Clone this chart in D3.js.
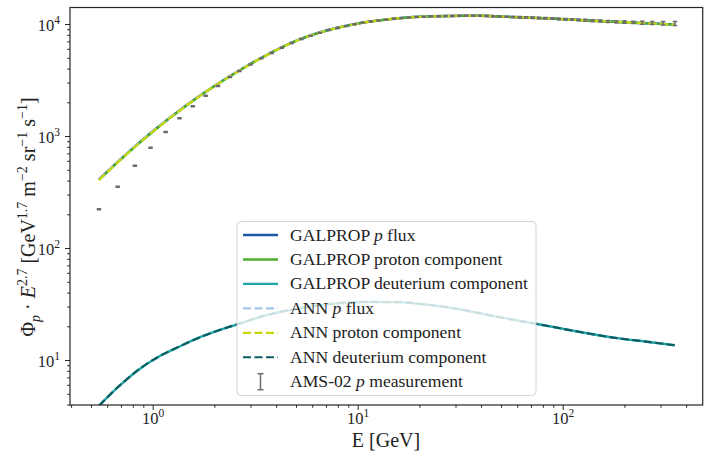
<!DOCTYPE html>
<html>
<head>
<meta charset="utf-8">
<script src="https://cdn.jsdelivr.net/npm/d3@7"></script>
<style>
  body { margin: 0; background: #fff; }
  svg { display: block; }
</style>
</head>
<body>
<svg id="chart" width="704" height="453"></svg>
<script>
// Kinetic energy grid of the model curves [GeV]
const energy = [0.547, 0.685, 0.857, 1.073, 1.344, 1.682, 2.106, 2.667, 3.463, 5.04, 7.33,
  10.65, 15.5, 22.53, 32.74, 39.51, 57.41, 83.56, 121.5, 176.5, 256.9, 353.1];

// Flux x E^2.7 from the GALPROP run
const galpropTotal = [408.9, 602.5, 867.8, 1222, 1682, 2267, 2980, 3885, 5105, 7124, 8932,
  10315, 11240, 11720, 11860, 11860, 11550, 11240, 10860, 10480, 10150, 9897];
const galpropProton = [405.0, 596.7, 859.6, 1211, 1669, 2251, 2962, 3864, 5080, 7095, 8900,
  10282, 11207, 11689, 11832, 11834, 11527, 11220, 10842, 10464, 10135, 9883];
const galpropDeut = [3.90, 5.84, 8.24, 10.76, 13.14, 15.82, 18.47, 21.19, 24.71, 28.71, 31.62,
  33.0, 32.9, 30.98, 27.95, 26.09, 22.88, 20.22, 17.79, 15.85, 14.57, 13.53];

// Same quantities from the neural-network emulator
const annTotal = [408.9, 602.5, 867.8, 1222, 1682, 2267, 2980, 3885, 5105, 7124, 8932,
  10315, 11240, 11720, 11860, 11860, 11550, 11240, 10860, 10480, 10150, 9897];
const annProton = [405.0, 596.7, 859.6, 1211, 1669, 2251, 2962, 3864, 5080, 7095, 8900,
  10282, 11207, 11689, 11832, 11834, 11527, 11220, 10842, 10464, 10135, 9883];
const annDeut = [3.90, 5.84, 8.24, 10.76, 13.14, 15.82, 18.47, 21.19, 24.71, 28.71, 31.62,
  33.0, 32.9, 30.98, 27.95, 26.09, 22.88, 20.22, 17.79, 15.85, 14.57, 13.53];

// AMS-02 proton measurement
const amsEnergy = [0.547, 0.675, 0.819, 0.976, 1.157, 1.351, 1.569, 1.813, 2.082, 2.383,
  2.648, 3.00, 3.385, 3.805, 4.266, 4.769, 5.311, 5.899, 6.539, 7.228, 7.973, 8.778, 9.644,
  10.59, 11.59, 12.63, 13.78, 15.03, 16.37, 17.82, 19.36, 21.01, 22.81, 24.76, 26.81, 29.01,
  31.35, 33.85, 36.55, 39.45, 42.55, 45.84, 49.39, 53.19, 57.23, 61.58, 66.28, 71.32, 76.72,
  82.5, 88.8, 95.5, 103.0, 111.0, 119.5, 129.0, 140.0, 152.4, 166.4, 182.4, 200.3, 220.8,
  244.7, 273.6, 309.0, 352.8];
const amsFlux = [222, 352, 542, 785, 1086, 1442, 1842, 2290, 2795, 3363,
  3800, 4349, 4935, 5523, 6144, 6783, 7355, 7834, 8337, 8858, 9226, 9574, 9929,
  10292, 10517, 10727, 10945, 11166, 11311, 11418, 11523, 11627, 11722, 11752, 11784, 11814,
  11844, 11860, 11860, 11860, 11797, 11735, 11673, 11611, 11550, 11491, 11433, 11373, 11313,
  11255, 11180, 11106, 11027, 10951, 10874, 10796, 10714, 10630, 10542, 10470, 10420, 10350,
  10280, 10210, 10150, 10100];
const amsErrPct = [1.0, 1.0, 1.0, 1.0, 1.0, 1.0, 1.0, 1.0, 1.0, 1.0,
  1.0, 1.0, 1.0, 1.0, 1.0, 1.0, 1.0, 1.0, 1.0, 1.0, 1.0, 1.0, 1.0,
  1.0, 1.0, 1.0, 1.0, 1.0, 1.0, 1.0, 1.0, 1.0, 1.0, 1.0, 1.0, 1.0,
  1.0, 1.0, 1.0, 1.0, 1.0, 1.0, 1.0, 1.0, 1.0, 1.5, 1.5, 1.5, 1.5,
  1.5, 1.5, 1.5, 1.5, 1.5, 1.5, 2.0, 2.0, 2.0, 2.0, 2.0, 2.5, 2.5,
  3.0, 3.0, 3.5, 4.0];

// Axis ticks
const xMajor = [1, 10, 100];
const xMinor = [0.4, 0.5, 0.6, 0.7, 0.8, 0.9, 2, 3, 4, 5, 6, 7, 8, 9,
  20, 30, 40, 50, 60, 70, 80, 90, 200, 300, 400];
const yMajor = [10, 100, 1000, 10000];
const yMinor = [4, 5, 6, 7, 8, 9, 20, 30, 40, 50, 60, 70, 80, 90,
  200, 300, 400, 500, 600, 700, 800, 900, 2000, 3000, 4000, 5000, 6000, 7000, 8000, 9000];

const FONT = "'Liberation Serif', 'DejaVu Serif', serif";
const box = { left: 70, right: 702.7, top: 7.5, bottom: 405 };

const svg = d3.select('#chart');
const x = d3.scaleLog().domain([0.3951, 481.8]).range([box.left, box.right]);
const y = d3.scaleLog().domain([3.966, 14042]).range([box.bottom, box.top]);

svg.append('defs').append('clipPath').attr('id', 'plotClip')
  .append('rect')
  .attr('x', box.left).attr('y', box.top)
  .attr('width', box.right - box.left).attr('height', box.bottom - box.top);

// text with math-style super/subscripts
function rich(sel, segs, size) {
  let cur = 0;
  segs.forEach(s => {
    const off = s.sup ? -0.42 * size : s.sub ? 0.25 * size : 0;
    const t = sel.append('tspan').text(s.t).attr('dy', off - cur);
    cur = off;
    if (s.sup || s.sub) t.attr('font-size', size * 0.7);
    if (s.i) t.attr('font-style', 'italic');
  });
}

// Curves
const series = [
  { name: [{ t: 'GALPROP ' }, { t: 'p', i: true }, { t: ' flux' }], vals: galpropTotal, color: '#1c5aa6', dash: null, w: 2.4 },
  { name: [{ t: 'GALPROP proton component' }], vals: galpropProton, color: '#4fae2c', dash: null, w: 2.4 },
  { name: [{ t: 'GALPROP deuterium component' }], vals: galpropDeut, color: '#1ea5a8', dash: null, w: 2.4 },
  { name: [{ t: 'ANN ' }, { t: 'p', i: true }, { t: ' flux' }], vals: annTotal, color: '#a4c6ea', dash: '8,3.5', w: 2.2 },
  { name: [{ t: 'ANN proton component' }], vals: annProton, color: '#c9d800', dash: '8,3.5', w: 2.2 },
  { name: [{ t: 'ANN deuterium component' }], vals: annDeut, color: '#0b5d62', dash: '8,3.5', w: 2.2 }
];

const line = d3.line().x(d => x(d[0])).y(d => y(d[1])).curve(d3.curveMonotoneX);
const plotG = svg.append('g').attr('clip-path', 'url(#plotClip)');
series.forEach(s => {
  plotG.append('path')
    .attr('d', line(energy.map((e, i) => [e, s.vals[i]])))
    .attr('fill', 'none')
    .attr('stroke', s.color)
    .attr('stroke-width', s.w)
    .attr('stroke-dasharray', s.dash)
    .attr('stroke-linecap', 'butt');
});

// AMS-02 error bars
const AMS_COLOR = '#6b6b6b';
const ams = plotG.append('g').attr('stroke', AMS_COLOR).attr('stroke-width', 1.5);
amsEnergy.forEach((e, i) => {
  const v = amsFlux[i], dv = v * amsErrPct[i] / 100;
  const cx = x(e), y0 = y(v - dv), y1 = y(v + dv);
  ams.append('line').attr('x1', cx).attr('x2', cx).attr('y1', y0).attr('y2', y1);
  ams.append('line').attr('x1', cx - 2.2).attr('x2', cx + 2.2).attr('y1', y0).attr('y2', y0);
  ams.append('line').attr('x1', cx - 2.2).attr('x2', cx + 2.2).attr('y1', y1).attr('y2', y1);
});

// Axes
const AX = '#262626';
function styleAxis(g) {
  g.select('.domain').remove();
  g.selectAll('line').attr('stroke', AX).attr('stroke-width', 1);
}
svg.append('g').attr('transform', `translate(0,${box.bottom})`)
  .call(d3.axisBottom(x).tickValues(xMinor).tickSize(2.8).tickFormat(''))
  .call(styleAxis);
const xg = svg.append('g').attr('transform', `translate(0,${box.bottom})`)
  .call(d3.axisBottom(x).tickValues(xMajor).tickSize(5).tickFormat(''))
  .call(styleAxis);
xg.selectAll('.tick').each(function (d) {
  const t = d3.select(this).append('text')
    .attr('y', 19).attr('fill', '#222').attr('font-family', FONT).attr('font-size', 16.5)
    .attr('text-anchor', 'middle');
  rich(t, [{ t: '10' }, { t: String(Math.round(Math.log10(d))), sup: true }], 16.5);
});

svg.append('g').attr('transform', `translate(${box.left},0)`)
  .call(d3.axisLeft(y).tickValues(yMinor).tickSize(2.8).tickFormat(''))
  .call(styleAxis);
const yg = svg.append('g').attr('transform', `translate(${box.left},0)`)
  .call(d3.axisLeft(y).tickValues(yMajor).tickSize(5).tickFormat(''))
  .call(styleAxis);
yg.selectAll('.tick').each(function (d) {
  const t = d3.select(this).append('text')
    .attr('x', -10).attr('y', 6).attr('fill', '#222').attr('font-family', FONT).attr('font-size', 16.5)
    .attr('text-anchor', 'end');
  rich(t, [{ t: '10' }, { t: String(Math.round(Math.log10(d))), sup: true }], 16.5);
});

// Frame
svg.append('rect')
  .attr('x', box.left).attr('y', box.top)
  .attr('width', box.right - box.left).attr('height', box.bottom - box.top)
  .attr('fill', 'none').attr('stroke', AX).attr('stroke-width', 1.2);

// Axis titles
const xt = svg.append('text').attr('x', 386).attr('y', 446.5)
  .attr('text-anchor', 'middle').attr('font-family', FONT).attr('font-size', 20).attr('fill', '#222');
rich(xt, [{ t: 'E [GeV]' }], 20);

const yt = svg.append('text').attr('transform', 'translate(35,217) rotate(-90)')
  .attr('text-anchor', 'middle').attr('font-family', FONT).attr('font-size', 20).attr('fill', '#222');
rich(yt, [
  { t: 'Φ' }, { t: 'p', sub: true, i: true }, { t: ' · ' }, { t: 'E', i: true }, { t: '2.7', sup: true },
  { t: ' [GeV' }, { t: '1.7', sup: true }, { t: ' m' }, { t: '−2', sup: true },
  { t: ' sr' }, { t: '−1', sup: true }, { t: ' s' }, { t: '−1', sup: true }, { t: ']' }
], 20);

// Legend
const LFS = 17.6;
const leg = svg.append('g');
leg.append('rect').attr('x', 237).attr('y', 221.5).attr('width', 299).attr('height', 174)
  .attr('rx', 4).attr('fill', '#fff').attr('fill-opacity', 0.8)
  .attr('stroke', '#d4d4d4').attr('stroke-width', 1);
const rowY = i => 235 + i * 24.45;
series.forEach((s, i) => {
  leg.append('line').attr('x1', 243).attr('x2', 278).attr('y1', rowY(i)).attr('y2', rowY(i))
    .attr('stroke', s.color).attr('stroke-width', s.w).attr('stroke-dasharray', s.dash);
  const t = leg.append('text').attr('x', 290).attr('y', rowY(i) + 5.5)
    .attr('font-family', FONT).attr('font-size', LFS).attr('fill', '#222');
  rich(t, s.name, LFS);
});
const ly = rowY(6);
const lg = leg.append('g').attr('stroke', AMS_COLOR).attr('stroke-width', 1.5);
lg.append('line').attr('x1', 260.5).attr('x2', 260.5).attr('y1', ly - 8).attr('y2', ly + 8);
lg.append('line').attr('x1', 257.5).attr('x2', 263.5).attr('y1', ly - 8).attr('y2', ly - 8);
lg.append('line').attr('x1', 257.5).attr('x2', 263.5).attr('y1', ly + 8).attr('y2', ly + 8);
const at = leg.append('text').attr('x', 290).attr('y', ly + 5.5)
  .attr('font-family', FONT).attr('font-size', LFS).attr('fill', '#222');
rich(at, [{ t: 'AMS-02 ' }, { t: 'p', i: true }, { t: ' measurement' }], LFS);
</script>
</body>
</html>
